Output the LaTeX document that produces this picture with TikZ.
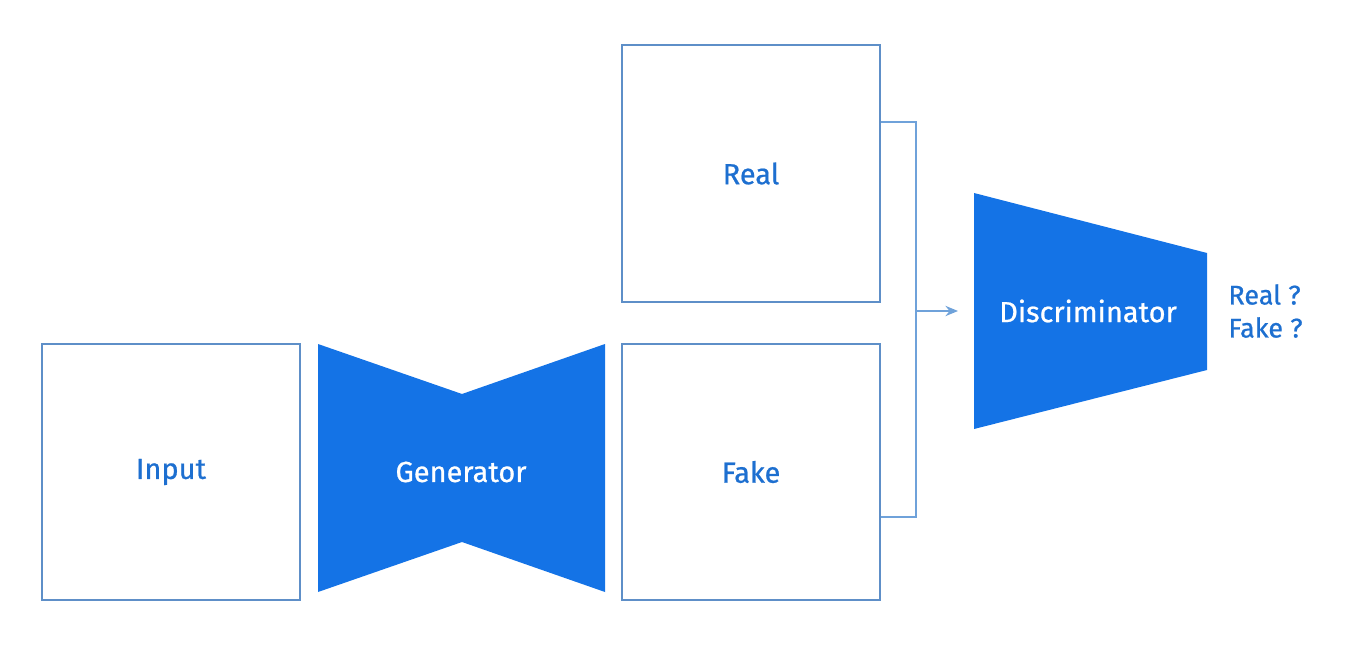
\documentclass[tikz,border=0pt]{standalone}
\usepackage{fontspec}
\setmainfont{Fira Sans}[FakeBold=0.7]
\usepackage{tikz}
\usetikzlibrary{positioning, arrows.meta, calc}
\definecolor{ganBlue}{HTML}{1473E6}
\definecolor{labelBlue}{HTML}{1D6FD0}
\definecolor{edgeBlue}{HTML}{5E8FC8}
\definecolor{wireBlue}{HTML}{6FA2DA}

\begin{document}
\begin{tikzpicture}[
  x=0.5pt, y=-0.5pt,
  every node/.style={font=\fontsize{14.5}{17}\selectfont},
  imgbox/.style={rectangle, draw=edgeBlue, line width=1pt, fill=white,
              text=labelBlue, minimum width=129pt, minimum height=128pt,
              inner sep=0pt},
  netfill/.style={fill=ganBlue, draw=none},
  netlbl/.style={text=white, inner sep=0pt},
  wire/.style={draw=wireBlue, line width=1pt},
  arrw/.style={->, >={Stealth[length=2.2mm, width=1.8mm]}, wireBlue, line width=1pt},
  outlbl/.style={text=labelBlue, align=left, anchor=west, inner sep=0pt,
              font=\fontsize{13.5}{16.5}\selectfont},
]
  \useasboundingbox (0,0) rectangle (1348,652);

  \node[imgbox] at (171, 472) (input) {Input};
  \node[imgbox] at (751, 173.5) (real) {Real};
  \node[imgbox] at (751, 472) (fake) {Fake};

  % generator (bow tie)
  \fill[netfill] (318,344) -- (462,394) -- (605,344) -- (605,592)
                 -- (462,542) -- (318,592) -- cycle;
  \node[netlbl] at (461, 472) (gen) {Generator};

  % discriminator (funnel)
  \fill[netfill] (974,193) -- (1207,253) -- (1207,370) -- (974,429) -- cycle;
  \node[netlbl] at (1088, 311) (disc) {Discriminator};

  \node[outlbl] at (1228, 311) (verdict) {Real ?\\Fake ?};

  \coordinate (real_tap) at ($(real.north east)!0.3!(real.south east)$);
  \coordinate (fake_tap) at ($(fake.north east)!0.676!(fake.south east)$);
  \coordinate (join_x)   at (916, 311);
  \coordinate (disc_in)  at (958, 311);

  \draw[wire] (real_tap) -- (join_x |- real_tap) -- (join_x |- fake_tap) -- (fake_tap);
  \draw[arrw] (join_x) -- (disc_in);
\end{tikzpicture}
\end{document}
